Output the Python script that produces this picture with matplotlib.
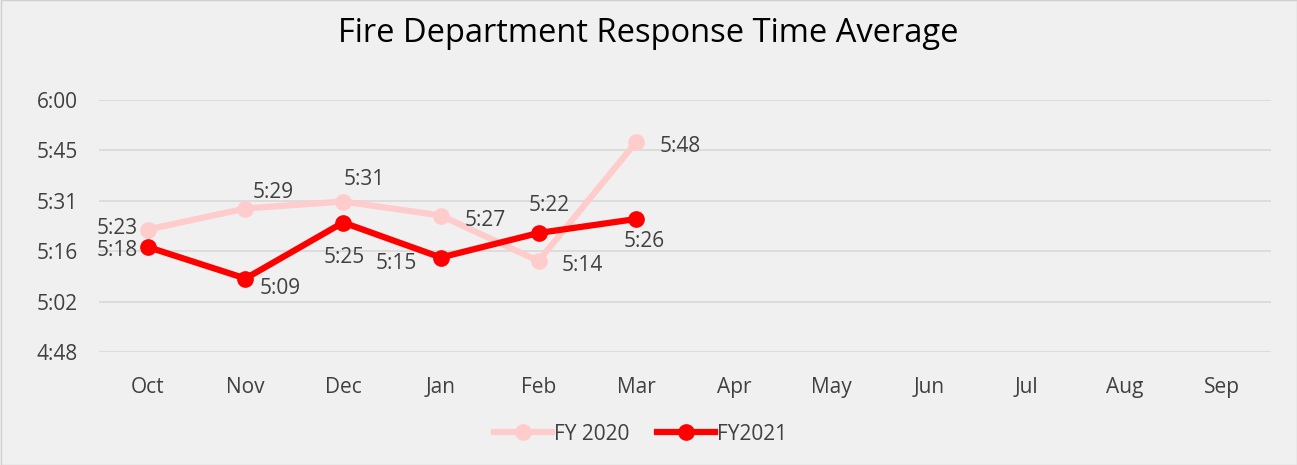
import matplotlib
matplotlib.use("Agg")
import matplotlib.pyplot as plt
from matplotlib.ticker import FixedLocator, FuncFormatter
from matplotlib.patches import Rectangle

plt.rcParams['font.family'] = ['Open Sans', 'DejaVu Sans']

months = ["Oct", "Nov", "Dec", "Jan", "Feb", "Mar", "Apr", "May", "Jun", "Jul", "Aug", "Sep"]
# response times in seconds
fy2020 = [323, 329, 331, 327, 314, 348]
fy2021 = [318, 309, 325, 315, 322, 326]
fy2020_labels = ["5:23", "5:29", "5:31", "5:27", "5:14", "5:48"]
fy2021_labels = ["5:18", "5:09", "5:25", "5:15", "5:22", "5:26"]
yticks = [288, 302.4, 316.8, 331.2, 345.6, 360]

# label placement (offset in points)
off2020 = [(-7, 0.5, 'right', 'center'), (20, 11.5, 'center', 'center'), (15, 15.5, 'center', 'center'),
           (17, -3.5, 'left', 'center'), (17, -3.5, 'left', 'center'), (17, -3.5, 'left', 'center')]
off2021 = [(-7, -2.5, 'right', 'center'), (10, -7.5, 'left', 'center'), (1, -25.5, 'center', 'center'),
           (-17, -4.5, 'right', 'center'), (8, 19.5, 'center', 'center'), (6, -16.5, 'center', 'center')]

bg = '#f0f0f0'
txt = '#404040'
c20 = '#ffcccc'
c21 = '#ff0000'

fig = plt.figure(figsize=(12.97, 4.65), dpi=100, facecolor=bg)
fig.patches.append(Rectangle((0.5/1297, 0.5/465), 1 - 1/1297, 1 - 1/465, transform=fig.transFigure,
                             fill=False, edgecolor='#d0d0d0', linewidth=1))
ax = fig.add_axes([99/1297, 1 - 352/465, (1271 - 99)/1297, (352 - 100)/465])
ax.set_facecolor(bg)

x = list(range(len(months)))
ax.plot(x[:len(fy2020)], fy2020, color=c20, linewidth=4.5, marker='o', markersize=11, label='FY 2020', zorder=3)
ax.plot(x[:len(fy2021)], fy2021, color=c21, linewidth=4.5, marker='o', markersize=11, label='FY2021', zorder=4)

for i, (v, lab) in enumerate(zip(fy2020, fy2020_labels)):
    dx, dy, ha, va = off2020[i]
    ax.annotate(lab, (i, v), xytext=(dx, dy), textcoords='offset points', ha=ha, va=va,
                fontsize=15, color=txt)
for i, (v, lab) in enumerate(zip(fy2021, fy2021_labels)):
    dx, dy, ha, va = off2021[i]
    ax.annotate(lab, (i, v), xytext=(dx, dy), textcoords='offset points', ha=ha, va=va,
                fontsize=15, color=txt)

ax.set_xlim(-0.5, len(months) - 0.5)
ax.set_ylim(yticks[0], yticks[-1])
ax.set_xticks(x)
ax.set_xticklabels(months)
ax.yaxis.set_major_locator(FixedLocator(yticks))
ax.yaxis.set_major_formatter(FuncFormatter(lambda v, p: f"{int(v // 60)}:{int(v) % 60:02d}"))
ax.grid(axis='y', color='#d9d9d9', linewidth=1.2)
ax.set_axisbelow(True)
for s in ax.spines.values():
    s.set_visible(False)
ax.tick_params(axis='both', length=0, labelsize=15, labelcolor=txt)
ax.tick_params(axis='y', pad=15)
ax.tick_params(axis='x', pad=18)

fig.text(0.5, 1 - 33/465, "Fire Department Response Time Average", ha='center', va='center',
         fontsize=23.5, color='#000000')

leg = fig.legend(loc='center', bbox_to_anchor=(0.494, 1 - 434/465), ncol=2, frameon=False,
                 fontsize=15, labelcolor=txt, handlelength=2.8, handletextpad=0.1, columnspacing=1.3)

fig.savefig("out.png", dpi=100, facecolor=bg)
